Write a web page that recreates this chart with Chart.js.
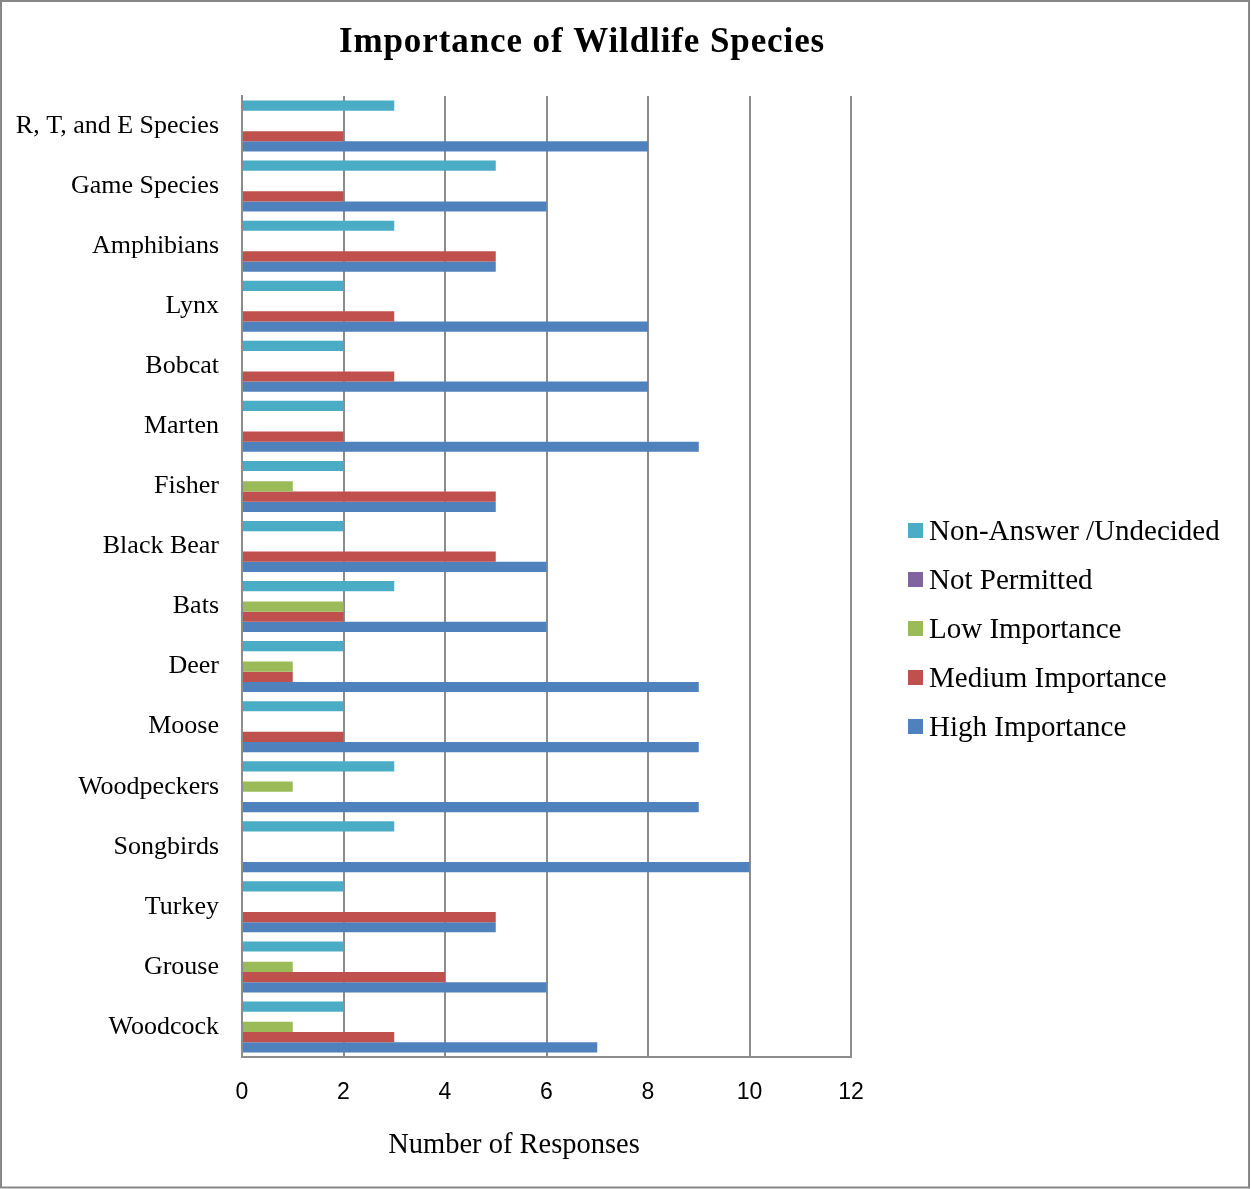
<!DOCTYPE html>
<html>
<head>
<meta charset="utf-8">
<title>Importance of Wildlife Species</title>
<script src="https://cdn.jsdelivr.net/npm/chart.js@4/dist/chart.umd.min.js"></script>
<style>
  html, body { margin: 0; padding: 0; background: #fff; }
  #wrap { width: 1251px; height: 1189px; }
  canvas { display: block; background: #fff; }
</style>
</head>
<body>
<div id="wrap"><canvas id="chart" width="1251" height="1189"></canvas></div>
<script>
// Survey responses per species group
const categories = [
  'R, T, and E Species', 'Game Species', 'Amphibians', 'Lynx', 'Bobcat',
  'Marten', 'Fisher', 'Black Bear', 'Bats', 'Deer', 'Moose',
  'Woodpeckers', 'Songbirds', 'Turkey', 'Grouse', 'Woodcock'
];
const seriesNames = [
  'Non-Answer /Undecided', 'Not Permitted', 'Low Importance',
  'Medium Importance', 'High Importance'
];
const nonAnswer        = [3, 5, 3, 2, 2, 2, 2, 2, 3, 2, 2, 3, 3, 2, 2, 2];
const notPermitted     = [0, 0, 0, 0, 0, 0, 0, 0, 0, 0, 0, 0, 0, 0, 0, 0];
const lowImportance    = [0, 0, 0, 0, 0, 0, 1, 0, 2, 1, 0, 1, 0, 0, 1, 1];
const mediumImportance = [2, 2, 5, 3, 3, 2, 5, 5, 2, 1, 2, 0, 0, 5, 4, 3];
const highImportance   = [8, 6, 5, 8, 8, 9, 5, 6, 6, 9, 9, 9, 10, 5, 6, 7];
const xTicks = [0, 2, 4, 6, 8, 10, 12];

const seriesValues = [nonAnswer, notPermitted, lowImportance, mediumImportance, highImportance];
const seriesColors = ['#4BACC6', '#8064A2', '#9BBB59', '#C0504D', '#4F81BD'];

const SERIF = '"Liberation Serif", "Times New Roman", serif';
const SANS = '"Liberation Sans", Arial, sans-serif';
const GRID = '#8c8c8c';

// Title, axis title, legend and frame drawn on the canvas
const decorations = {
  id: 'decorations',
  afterDraw(chart) {
    const ctx = chart.ctx;
    const area = chart.chartArea;
    ctx.save();

    // chart title
    ctx.fillStyle = '#000';
    ctx.font = 'bold 35px ' + SERIF;
    ctx.letterSpacing = '0.9px';
    ctx.textAlign = 'center';
    ctx.textBaseline = 'alphabetic';
    ctx.fillText('Importance of Wildlife Species', 582, 52);
    ctx.letterSpacing = '0px';

    // x axis title
    ctx.font = '28.5px ' + SERIF;
    ctx.fillText('Number of Responses', 514, 1153);

    // legend
    ctx.font = '29px ' + SERIF;
    ctx.textAlign = 'left';
    const lx = area.right + 57;
    chart.data.datasets.forEach((ds, i) => {
      const cy = 530.5 + 49 * i;
      ctx.fillStyle = ds.backgroundColor;
      ctx.fillRect(lx, cy - 7.5, 15, 15);
      ctx.fillStyle = '#000';
      ctx.fillText(ds.label, lx + 21, cy + 9.5);
    });

    // outer frame
    ctx.strokeStyle = '#878787';
    ctx.lineWidth = 2;
    ctx.strokeRect(1, 1, 1248, 1186.5);
    ctx.restore();
  }
};

new Chart(document.getElementById('chart'), {
  type: 'bar',
  data: {
    labels: categories,
    datasets: seriesNames.map((name, i) => ({
      label: name,
      data: seriesValues[i],
      backgroundColor: seriesColors[i],
      borderWidth: 0,
      categoryPercentage: 0.85,
      barPercentage: 1.0
    }))
  },
  options: {
    indexAxis: 'y',
    responsive: false,
    devicePixelRatio: 1,
    animation: false,
    layout: { padding: { top: 96, right: 400, left: 0, bottom: 0 } },
    plugins: {
      legend: { display: false },
      title: { display: false },
      tooltip: { enabled: false }
    },
    scales: {
      x: {
        min: 0,
        max: 12,
        afterBuildTicks(scale) { scale.ticks = xTicks.map(v => ({ value: v })); },
        afterFit(scale) { scale.height = 132; },
        ticks: { color: '#000', font: { family: SANS, size: 23 }, padding: 22 },
        grid: { color: GRID, lineWidth: 2, drawTicks: false },
        border: { display: true, color: GRID, width: 2 }
      },
      y: {
        afterFit(scale) { scale.width = 242; },
        ticks: { color: '#000', font: { family: SERIF, size: 26 }, padding: 23 },
        grid: { display: false, drawTicks: false },
        border: { display: true, color: GRID, width: 2 }
      }
    }
  },
  plugins: [decorations]
});
</script>
</body>
</html>
